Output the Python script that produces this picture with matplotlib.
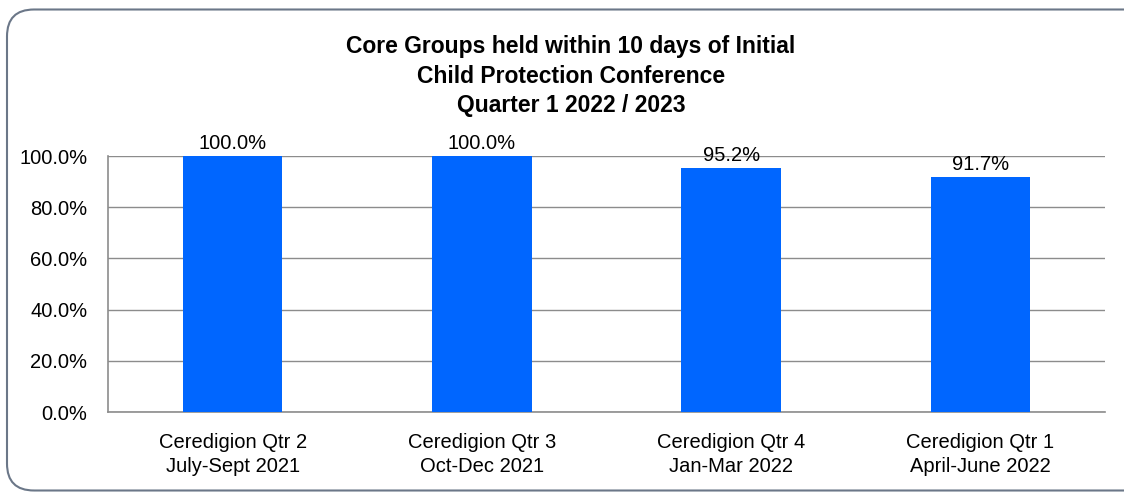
import matplotlib.pyplot as plt
from matplotlib.patches import FancyBboxPatch
from matplotlib.ticker import FuncFormatter

categories = ['Ceredigion Qtr 2\nJuly-Sept 2021', 'Ceredigion Qtr 3\nOct-Dec 2021',
              'Ceredigion Qtr 4\nJan-Mar 2022', 'Ceredigion Qtr 1\nApril-June 2022']
values = [100.0, 100.0, 95.2, 91.7]
title = 'Core Groups held within 10 days of Initial\nChild Protection Conference\nQuarter 1 2022 / 2023'

plt.rcParams['font.family'] = ['Liberation Sans', 'DejaVu Sans']

fig = plt.figure(figsize=(11.24, 4.92), dpi=100)
# rounded outer frame (partly cut off on the right like the source)
frame = FancyBboxPatch((7 / 1124, 1.5 / 492), 1150 / 1124, 481 / 492,
                       boxstyle='round,pad=0,rounding_size=0.024',
                       transform=fig.transFigure, facecolor='none',
                       edgecolor='#6b7788', linewidth=1.5, mutation_aspect=2.28,
                       zorder=-1)
fig.patches.append(frame)

ax = fig.add_axes([108 / 1124, 80 / 492, 997 / 1124, 256 / 492])
ax.set_facecolor('none')
x = range(len(categories))
bars = ax.bar(x, values, width=0.4, color='#0066ff', zorder=3)
for xi, v in zip(x, values):
    ax.text(xi, v + 1.2, f'{v:.1f}%', ha='center', va='bottom', fontsize=14.5)

ax.set_xlim(-0.5, len(categories) - 0.5)
ax.set_ylim(0, 100)
ax.set_yticks([0, 20, 40, 60, 80, 100])
ax.yaxis.set_major_formatter(FuncFormatter(lambda v, p: f'{v:.1f}%'))
ax.set_xticks(list(x))
ax.set_xticklabels(categories, fontsize=14.5, linespacing=1.35)
ax.tick_params(length=0, labelsize=14.5)
ax.tick_params(axis='y', pad=15)
ax.tick_params(axis='x', pad=15)
ax.grid(axis='y', color='#8c8c8c', linewidth=1, zorder=0)
for s in ['top', 'right']:
    ax.spines[s].set_visible(False)
for s in ['left', 'bottom']:
    ax.spines[s].set_color('#8c8c8c')
    ax.spines[s].set_linewidth(1.2)

fig.text(571 / 1124, 1 - 76 / 492, title, ha='center', va='center',
         fontsize=16.5, fontweight='bold', linespacing=1.38)

fig.savefig('out.png', dpi=100)
